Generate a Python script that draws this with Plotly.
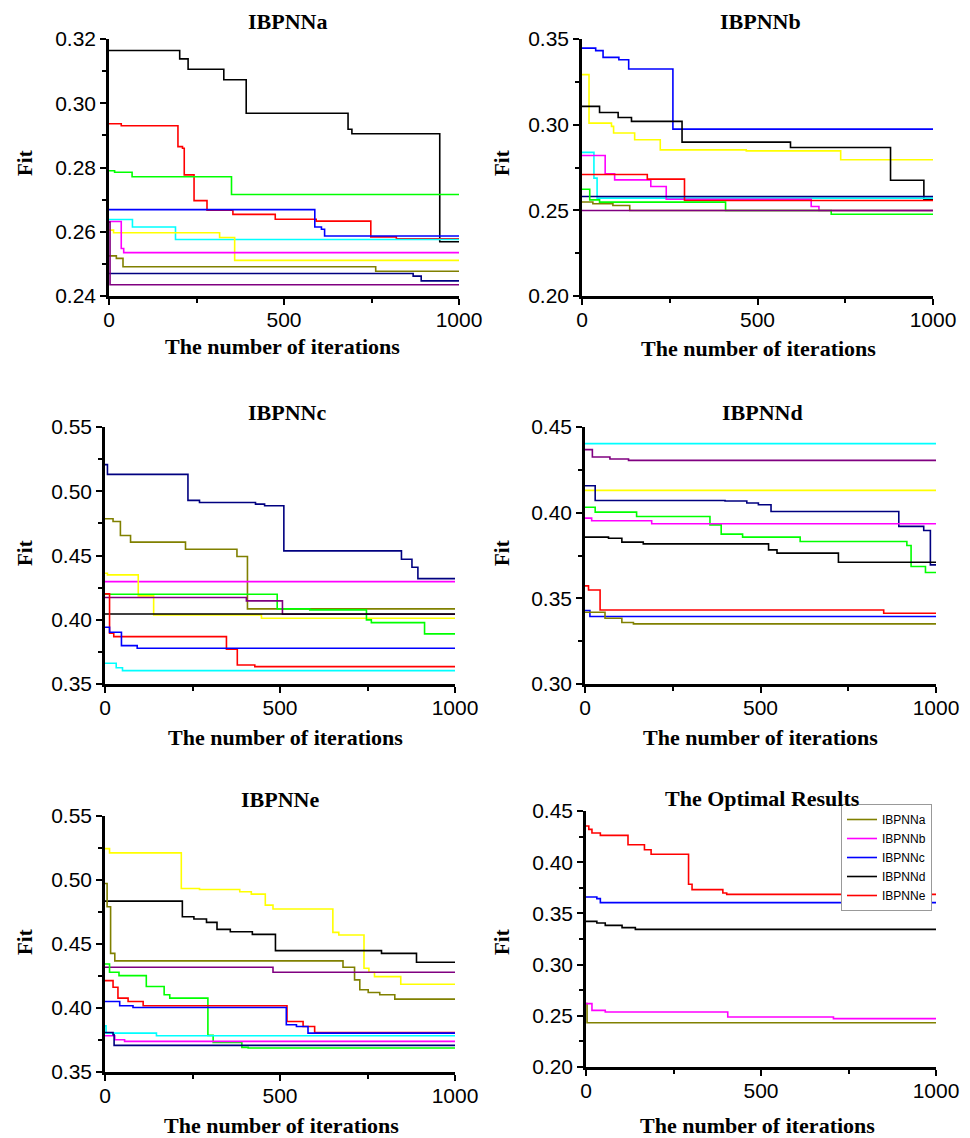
import plotly.graph_objects as go

W, H = 970, 1138

COLORS = {
    "black": "#000000", "red": "#ff0000", "green": "#00ff00", "blue": "#0000ff",
    "cyan": "#00ffff", "yellow": "#ffff00", "magenta": "#ff00ff", "olive": "#808000",
    "navy": "#000080", "purple": "#800080",
}

# ---- data: step curves, (x breakpoints, fitness values) ----
ibpnna = {
    "black":   ([0, 202, 226, 328, 392, 683, 694, 945, 1000],
                [0.3164, 0.3138, 0.3106, 0.3073, 0.2969, 0.2919, 0.2905, 0.2569, 0.2569]),
    "red":     ([0, 35, 197, 210, 215, 243, 280, 354, 475, 592, 748, 821, 1000],
                [0.2936, 0.2930, 0.2865, 0.2860, 0.2777, 0.2697, 0.2667, 0.2654, 0.2639, 0.2633, 0.2584, 0.2578, 0.2578]),
    "green":   ([0, 16, 66, 350, 1000], [0.2790, 0.2785, 0.2771, 0.2716, 0.2716]),
    "blue":    ([0, 588, 607, 616, 1000], [0.2669, 0.2615, 0.2608, 0.2587, 0.2587]),
    "cyan":    ([0, 67, 190, 1000], [0.2638, 0.2615, 0.2576, 0.2576]),
    "yellow":  ([0, 13, 316, 359, 1000], [0.2605, 0.2597, 0.2582, 0.2511, 0.2511]),
    "magenta": ([0, 35, 42, 1000], [0.2632, 0.2548, 0.2535, 0.2535]),
    "olive":   ([0, 21, 40, 762, 1000], [0.2525, 0.2517, 0.2491, 0.2477, 0.2477]),
    "navy":    ([0, 869, 892, 1000], [0.2470, 0.2462, 0.2447, 0.2447]),
    "purple":  ([0, 3, 1000], [0.2630, 0.2435, 0.2435]),
}

ibpnnb = {
    "blue":    ([0, 39, 60, 105, 133, 259, 1000], [0.3447, 0.3432, 0.3393, 0.3379, 0.3325, 0.2974, 0.2974]),
    "yellow":  ([0, 20, 84, 90, 150, 223, 468, 737, 1000],
                [0.3292, 0.3009, 0.2990, 0.2951, 0.2912, 0.2853, 0.2847, 0.2795, 0.2795]),
    "black":   ([0, 50, 103, 141, 285, 594, 879, 974, 1000],
                [0.3107, 0.3071, 0.3042, 0.3019, 0.2898, 0.2867, 0.2676, 0.2561, 0.2561]),
    "cyan":    ([0, 34, 43, 1000], [0.2838, 0.2688, 0.2571, 0.2571]),
    "magenta": ([0, 66, 93, 196, 240, 653, 675, 1000], [0.2820, 0.2713, 0.2678, 0.2639, 0.2565, 0.2522, 0.2499, 0.2499]),
    "red":     ([0, 186, 292, 1000], [0.2709, 0.2682, 0.2557, 0.2555]),
    "navy":    ([0, 1000], [0.2581, 0.2581]),
    "green":   ([0, 22, 50, 409, 710, 1000], [0.2623, 0.2561, 0.2548, 0.2499, 0.2477, 0.2477]),
    "olive":   ([0, 31, 88, 136, 1000], [0.2549, 0.2538, 0.2528, 0.2499, 0.2499]),
    "purple":  ([0, 1000], [0.2499, 0.2499]),
}

ibpnnc = {
    "navy":    ([0, 7, 237, 270, 430, 456, 511, 847, 877, 894, 1000],
                [0.5207, 0.5131, 0.4929, 0.4913, 0.4900, 0.4887, 0.4536, 0.4471, 0.4409, 0.4320, 0.4316]),
    "olive":   ([0, 23, 44, 73, 230, 377, 407, 1000],
                [0.4786, 0.4765, 0.4656, 0.4604, 0.4549, 0.4492, 0.4085, 0.4082]),
    "magenta": ([0, 1000], [0.4297, 0.4297]),
    "yellow":  ([0, 7, 95, 139, 447, 1000], [0.4362, 0.4349, 0.4186, 0.4038, 0.4012, 0.4009]),
    "green":   ([0, 492, 585, 747, 761, 913, 1000], [0.4199, 0.4085, 0.4077, 0.3999, 0.3978, 0.3890, 0.3890]),
    "purple":  ([0, 404, 507, 1000], [0.4173, 0.4147, 0.4043, 0.4043]),
    "black":   ([0, 1000], [0.4045, 0.4045]),
    "red":     ([0, 13, 25, 347, 378, 428, 1000], [0.4201, 0.3895, 0.3869, 0.3770, 0.3648, 0.3635, 0.3635]),
    "blue":    ([0, 13, 47, 92, 1000], [0.3942, 0.3903, 0.3799, 0.3778, 0.3778]),
    "cyan":    ([0, 32, 50, 1000], [0.3661, 0.3627, 0.3604, 0.3604]),
}

ibpnnd = {
    "cyan":    ([0, 1000], [0.4403, 0.4403]),
    "purple":  ([0, 21, 71, 124, 1000], [0.4368, 0.4325, 0.4313, 0.4305, 0.4305]),
    "yellow":  ([0, 1000], [0.4130, 0.4130]),
    "navy":    ([0, 29, 399, 461, 494, 530, 894, 965, 984, 1000],
                [0.4157, 0.4071, 0.4068, 0.4056, 0.4046, 0.4007, 0.3920, 0.3896, 0.3695, 0.3695]),
    "green":   ([0, 29, 147, 356, 388, 449, 613, 917, 929, 970, 1000],
                [0.4032, 0.4003, 0.3978, 0.3929, 0.3875, 0.3857, 0.3832, 0.3808, 0.3686, 0.3651, 0.3651]),
    "magenta": ([0, 19, 190, 1000], [0.3968, 0.3953, 0.3935, 0.3935]),
    "black":   ([0, 67, 105, 166, 523, 547, 722, 1000],
                [0.3857, 0.3851, 0.3828, 0.3818, 0.3783, 0.3764, 0.3711, 0.3711]),
    "red":     ([0, 10, 43, 851, 1000], [0.3573, 0.3549, 0.3432, 0.3413, 0.3413]),
    "blue":    ([0, 14, 1000], [0.3429, 0.3394, 0.3394]),
    "olive":   ([0, 57, 105, 138, 1000], [0.3419, 0.3384, 0.3359, 0.3351, 0.3351]),
}

ibpnne = {
    "yellow":  ([0, 13, 218, 270, 385, 418, 458, 480, 651, 668, 740, 754, 770, 845, 1000],
                [0.5245, 0.5212, 0.4934, 0.4926, 0.4908, 0.4890, 0.4804, 0.4773, 0.4591, 0.4570,
                 0.4310, 0.4279, 0.4245, 0.4186, 0.4186]),
    "black":   ([0, 221, 254, 290, 320, 358, 421, 487, 790, 890, 1000],
                [0.4835, 0.4713, 0.4695, 0.4669, 0.4614, 0.4596, 0.4575, 0.4448, 0.4427, 0.4357, 0.4357]),
    "olive":   ([0, 6, 16, 28, 680, 713, 728, 752, 785, 828, 1000],
                [0.4973, 0.4791, 0.4427, 0.4368, 0.4318, 0.4220, 0.4142, 0.4121, 0.4103, 0.4069, 0.4069]),
    "purple":  ([0, 480, 1000], [0.4318, 0.4279, 0.4279]),
    "green":   ([0, 13, 40, 118, 169, 185, 294, 309, 391, 409, 1000],
                [0.4344, 0.4279, 0.4253, 0.4168, 0.4103, 0.4077, 0.3786, 0.3731, 0.3692, 0.3687, 0.3687]),
    "red":     ([0, 23, 37, 66, 109, 520, 566, 599, 1000],
                [0.4214, 0.4162, 0.4077, 0.4051, 0.4017, 0.3895, 0.3856, 0.3809, 0.3804]),
    "blue":    ([0, 42, 80, 518, 547, 580, 1000], [0.4051, 0.4017, 0.4004, 0.3869, 0.3856, 0.3804, 0.3804]),
    "cyan":    ([0, 3, 147, 1000], [0.3860, 0.3804, 0.3783, 0.3783]),
    "magenta": ([0, 28, 56, 1000], [0.3783, 0.3752, 0.3739, 0.3739]),
    "navy":    ([0, 23, 26, 1000], [0.3809, 0.3791, 0.3708, 0.3705]),
}

optimal = {
    "IBPNNa": ("olive",   [0, 3, 1000], [0.2620, 0.2432, 0.2432]),
    "IBPNNb": ("magenta", [0, 17, 55, 405, 707, 1000], [0.2619, 0.2553, 0.2537, 0.2488, 0.2472, 0.2472]),
    "IBPNNc": ("blue",    [0, 31, 41, 1000], [0.3660, 0.3644, 0.3605, 0.3605]),
    "IBPNNd": ("black",   [0, 31, 55, 103, 141, 1000], [0.3422, 0.3406, 0.3383, 0.3361, 0.3344, 0.3344]),
    "IBPNNe": ("red",     [0, 8, 17, 41, 120, 167, 186, 293, 303, 391, 402, 1000],
               [0.4354, 0.4321, 0.4285, 0.4262, 0.4171, 0.4122, 0.4077, 0.3784, 0.3732, 0.3699, 0.3686, 0.3686]),
}

titles = ["IBPNNa", "IBPNNb", "IBPNNc", "IBPNNd", "IBPNNe", "The Optimal Results"]
y_ranges = [(0.24, 0.32), (0.20, 0.35), (0.35, 0.55), (0.30, 0.45), (0.35, 0.55), (0.20, 0.45)]
y_dticks = [0.02, 0.05, 0.05, 0.05, 0.05, 0.05]
x_ticks = [0, 500, 1000]
x_minor = [250, 750]

# ---- layout geometry (pixels) ----
boxes = [  # left, right, top, bottom
    (109, 459, 39, 296),
    (582, 933, 39, 296),
    (105, 455, 427, 684),
    (585, 936, 427, 684),
    (105, 455, 816, 1072),
    (586, 936, 811, 1067),
]
title_pos = [(287, 22), (760, 22), (287, 412), (762, 412), (280, 799), (762, 798)]
xtitle_pos = [(282, 347), (758, 348), (285, 737), (760, 737), (281, 1125), (757, 1125)]
ytitle_pos = [(25, 163), (502, 163), (25, 553), (502, 553), (25, 942), (502, 942)]

fig = go.Figure()
SERIF = "Liberation Serif, Times New Roman, serif"
SANS = "Liberation Sans, Arial, sans-serif"

panels = [ibpnna, ibpnnb, ibpnnc, ibpnnd, ibpnne]
for i, panel in enumerate(panels):
    ax = "" if i == 0 else str(i + 1)
    for cname, (xs, ys) in panel.items():
        fig.add_trace(go.Scatter(x=xs, y=ys, mode="lines", line=dict(color=COLORS[cname], width=1.6, shape="hv"),
                                 showlegend=False, xaxis="x" + ax, yaxis="y" + ax, hoverinfo="skip"))
for name, (cname, xs, ys) in optimal.items():
    fig.add_trace(go.Scatter(x=xs, y=ys, mode="lines", name=name,
                             line=dict(color=COLORS[cname], width=1.6, shape="hv"),
                             showlegend=True, xaxis="x6", yaxis="y6"))

layout = {}
annotations = []
for i, (l, r, t, b) in enumerate(boxes):
    ax = "" if i == 0 else str(i + 1)
    layout["xaxis" + ax] = dict(
        domain=[l / W, r / W], anchor="y" + ax, range=[0, 1000], tickvals=x_ticks, automargin=False,
        showline=True, linecolor="black", linewidth=2.5, ticks="outside", ticklen=6, tickwidth=2,
        tickcolor="black", showgrid=False, zeroline=False, ticklabelstandoff=-3,
        tickfont=dict(family=SANS, size=21, color="black"),
        minor=dict(tickvals=x_minor, ticks="outside", ticklen=4, tickwidth=1.5, tickcolor="black"),
        fixedrange=True,
    )
    y0, y1 = y_ranges[i]
    layout["yaxis" + ax] = dict(
        domain=[1 - b / H, 1 - t / H], anchor="x" + ax, range=[y0, y1], dtick=y_dticks[i], tick0=y0,
        tickformat=".2f", showline=True, linecolor="black", linewidth=2.5, ticks="outside", ticklen=6,
        tickwidth=2, tickcolor="black", showgrid=False, zeroline=False, automargin=False,
        tickfont=dict(family=SANS, size=21, color="black"),
        minor=dict(dtick=y_dticks[i] / 2, ticks="outside", ticklen=4, tickwidth=1.5, tickcolor="black"),
        fixedrange=True,
    )
    tx, ty = title_pos[i]
    annotations.append(dict(text="<b>%s</b>" % titles[i], x=tx / W, y=1 - ty / H, xref="paper", yref="paper",
                            showarrow=False, xanchor="center", yanchor="middle",
                            font=dict(family=SERIF, size=22, color="black")))
    tx, ty = xtitle_pos[i]
    annotations.append(dict(text="<b>The number of iterations</b>", x=tx / W, y=1 - ty / H, xref="paper",
                            yref="paper", showarrow=False, xanchor="center", yanchor="middle",
                            font=dict(family=SERIF, size=22, color="black")))
    tx, ty = ytitle_pos[i]
    annotations.append(dict(text="<b>Fit</b>", x=tx / W, y=1 - ty / H, xref="paper", yref="paper",
                            showarrow=False, xanchor="center", yanchor="middle", textangle=-90,
                            font=dict(family=SERIF, size=21, color="black")))

fig.update_layout(
    template="none",
    width=W, height=H, margin=dict(l=0, r=0, t=0, b=0, autoexpand=False),
    paper_bgcolor="white", plot_bgcolor="white",
    annotations=annotations,
    legend=dict(x=841 / W, y=1 - 804 / H, xanchor="left", yanchor="top", bgcolor="white",
                bordercolor="#999999", borderwidth=1, font=dict(family=SANS, size=12, color="black"),
                tracegroupgap=0, itemwidth=30),
    **layout,
)

fig.write_html("out.html")
